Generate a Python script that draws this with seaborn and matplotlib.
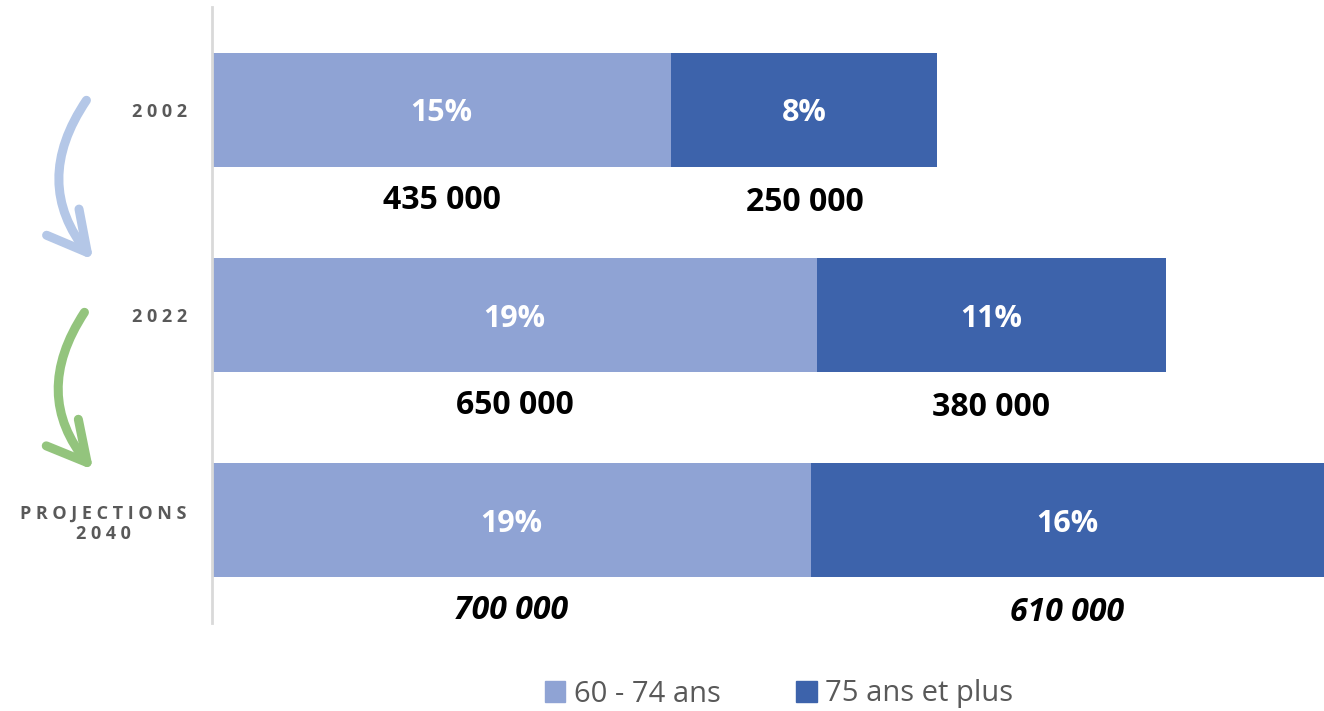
import pandas as pd
import matplotlib.pyplot as plt
import seaborn as sns
from matplotlib.patches import Patch, FancyArrowPatch

# ── Data ──────────────────────────────────────────────────────────────────────
years       = ['2002', '2022', 'PROJECTIONS\n2040']
share_60_74 = [14.5, 19.1, 18.9]      # bar length, % of population
share_75    = [8.4, 11.0, 16.2]
pct_60_74   = ['15%', '19%', '19%']
pct_75      = ['8%', '11%', '16%']
pop_60_74   = ['435 000', '650 000', '700 000']
pop_75      = ['250 000', '380 000', '610 000']
series      = ['60 - 74 ans', '75 ans et plus']

LIGHT = '#8FA3D4'
DARK  = '#3D63AB'
GREY  = '#595959'

df = pd.DataFrame({'year': years, 'a': share_60_74, 'b': share_75})
df['total'] = df['a'] + df['b']

sns.set_style('white')
plt.rcParams['font.family'] = ['Open Sans', 'DejaVu Sans']

fig = plt.figure(figsize=(13.24, 7.11), dpi=100)
ax = fig.add_axes([212 / 1324, 1 - 623 / 711, 1 - 212 / 1324, (623 - 7) / 711])

# ── Stacked bars ──────────────────────────────────────────────────────────────
sns.barplot(data=df, x='total', y='year', color=DARK, width=0.556,
            saturation=1, orient='h', linewidth=0, ax=ax)
sns.barplot(data=df, x='a', y='year', color=LIGHT, width=0.556,
            saturation=1, orient='h', linewidth=0, ax=ax)

ax.set_xlim(0, df['total'].max())
ax.set_ylim(2.5, -0.5)
ax.set_xlabel('')
ax.set_ylabel('')
ax.set_xticks([])

ax.set_yticks(range(len(years)))
ax.set_yticklabels(['\n'.join(' '.join(part) for part in y.split('\n')) for y in years],
                   fontsize=13, fontweight='bold', color=GREY,
                   multialignment='center', linespacing=1.2)
ax.tick_params(axis='y', length=0, pad=18)

for s in ['top', 'right', 'bottom']:
    ax.spines[s].set_visible(False)
ax.spines['left'].set_color('#D9D9D9')
ax.spines['left'].set_linewidth(2)

# ── Labels ────────────────────────────────────────────────────────────────────
for i, row in df.iterrows():
    style = 'italic' if i == 2 else 'normal'
    ax.text(row['a'] / 2, i, pct_60_74[i], ha='center', va='center_baseline',
            color='white', fontsize=22, fontweight='bold')
    ax.text(row['a'] + row['b'] / 2, i, pct_75[i], ha='center', va='center_baseline',
            color='white', fontsize=22, fontweight='bold')
    ax.text(row['a'] / 2, i + 0.44, pop_60_74[i], ha='center', va='center',
            color='black', fontsize=23, fontweight='bold', fontstyle=style)
    ax.text(row['a'] + row['b'] / 2, i + 0.45, pop_75[i], ha='center', va='center',
            color='black', fontsize=23, fontweight='bold', fontstyle=style)

# ── Legend ────────────────────────────────────────────────────────────────────
handles = [Patch(color=LIGHT), Patch(color=DARK)]
fig.legend(handles, series, loc='center', bbox_to_anchor=(779 / 1324, 1 - 694 / 711),
           ncol=2, frameon=False, fontsize=21, labelcolor=GREY,
           handlelength=0.7, handleheight=0.7, handletextpad=0.3, columnspacing=2.6)

# ── Curved arrows ─────────────────────────────────────────────────────────────
def px(x, y):
    return (x / 1324, 1 - y / 711)

for start, end, col in [((88, 98), (95, 262), '#B4C7E7'),
                        ((86, 310), (95, 472), '#93C47D')]:
    arr = FancyArrowPatch(px(*start), px(*end), transform=fig.transFigure,
                          connectionstyle='arc3,rad=0.38',
                          arrowstyle='->,head_length=28,head_width=15',
                          color=col, linewidth=6.5, capstyle='round',
                          joinstyle='round')
    fig.add_artist(arr)

fig.savefig('out.png', dpi=100)
